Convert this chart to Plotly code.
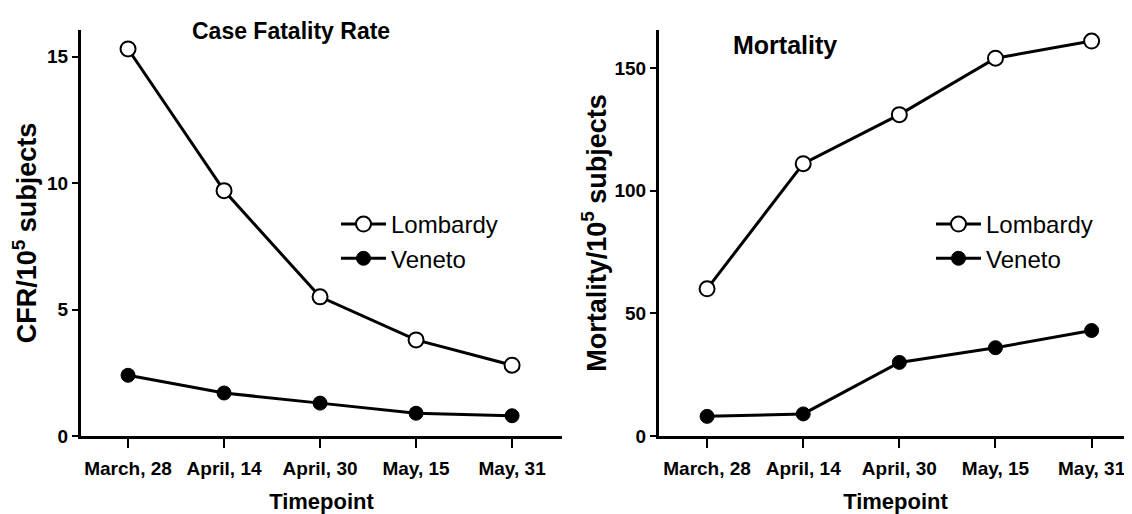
import plotly.graph_objects as go

timepoints = ["March, 28", "April, 14", "April, 30", "May, 15", "May, 31"]
cfr_lombardy = [15.3, 9.7, 5.5, 3.8, 2.8]
cfr_veneto = [2.4, 1.7, 1.3, 0.9, 0.8]
mort_lombardy = [60, 111, 131, 154, 161]
mort_veneto = [8, 9, 30, 36, 43]

FONT_B = "Liberation Sans, Arial"
OFF = 8                      # page body margin offset
W, H = 1132 - OFF, 514 - OFF


def px_x(x):
    return (x - OFF) / W


def px_y(y):
    return 1 - (y - OFF) / H


open_marker = dict(symbol="circle", size=15, color="white", line=dict(color="black", width=2))
fill_marker = dict(symbol="circle", size=14, color="black", line=dict(color="black", width=1))
line_style = dict(color="black", width=3)

fig = go.Figure()
fig.add_trace(go.Scatter(x=list(range(5)), y=cfr_lombardy, mode="lines+markers", name="Lombardy",
                         line=line_style, marker=open_marker, xaxis="x", yaxis="y", legend="legend"))
fig.add_trace(go.Scatter(x=list(range(5)), y=cfr_veneto, mode="lines+markers", name="Veneto",
                         line=line_style, marker=fill_marker, xaxis="x", yaxis="y", legend="legend"))
fig.add_trace(go.Scatter(x=list(range(5)), y=mort_lombardy, mode="lines+markers", name="Lombardy",
                         line=line_style, marker=open_marker, xaxis="x2", yaxis="y2", legend="legend2"))
fig.add_trace(go.Scatter(x=list(range(5)), y=mort_veneto, mode="lines+markers", name="Veneto",
                         line=line_style, marker=fill_marker, xaxis="x2", yaxis="y2", legend="legend2"))

ydom = [px_y(436), px_y(30)]
tickfont = dict(family=FONT_B, size=19, color="black", weight="bold")
xtitlefont = dict(family=FONT_B, size=22, color="black", weight="bold")
ytitlefont = dict(family=FONT_B, size=27, color="black", weight="bold")

xcommon = dict(tickmode="array", tickvals=list(range(5)), ticktext=timepoints,
               showline=True, linecolor="black", linewidth=3, ticks="outside", ticklen=9,
               tickwidth=2, tickcolor="black", showgrid=False, zeroline=False,
               tickfont=tickfont, fixedrange=True, automargin=False, ticklabelstandoff=4)
ycommon = dict(showline=True, linecolor="black", linewidth=3, ticks="outside", ticklen=6,
               tickwidth=2, tickcolor="black", showgrid=False, zeroline=False,
               tickfont=tickfont, fixedrange=True, automargin=False)

legfont = dict(family=FONT_B, size=24, color="black")

fig.update_layout(
    width=W, height=H,
    margin=dict(l=0, r=0, t=0, b=0),
    paper_bgcolor="white", plot_bgcolor="white",
    xaxis=dict(domain=[px_x(81), px_x(562)], range=[-0.49, 4.52], anchor="y",
               title=dict(text="Timepoint", font=xtitlefont, standoff=18), **xcommon),
    yaxis=dict(domain=ydom, range=[0, 16.05], anchor="x", tickvals=[0, 5, 10, 15],
               title=dict(text="CFR/10<sup>5</sup> subjects", font=ytitlefont, standoff=7), **ycommon),
    xaxis2=dict(domain=[px_x(659), 1.0], range=[-0.5, 4.42], anchor="y2",
                title=dict(text="Timepoint", font=xtitlefont, standoff=18), **xcommon),
    yaxis2=dict(domain=ydom, range=[0, 165.5], anchor="x2", tickvals=[0, 50, 100, 150],
                title=dict(text="Mortality/10<sup>5</sup> subjects", font=ytitlefont, standoff=1), **ycommon),
    legend=dict(x=px_x(336), y=px_y(202), xanchor="left", yanchor="top",
                font=legfont, bgcolor="rgba(0,0,0,0)",
                itemwidth=45, tracegroupgap=0),
    legend2=dict(x=px_x(931), y=px_y(202), xanchor="left", yanchor="top",
                 font=legfont, bgcolor="rgba(0,0,0,0)",
                 itemwidth=45, tracegroupgap=0),
    annotations=[
        dict(text="Case Fatality Rate", x=px_x(291), y=px_y(31), xref="paper", yref="paper",
             showarrow=False, xanchor="center", yanchor="middle",
             font=dict(family=FONT_B, size=23, color="black", weight="bold")),
        dict(text="Mortality", x=px_x(785), y=px_y(45), xref="paper", yref="paper",
             showarrow=False, xanchor="center", yanchor="middle",
             font=dict(family=FONT_B, size=25, color="black", weight="bold")),
    ],
)

fig.write_html("out.html")
